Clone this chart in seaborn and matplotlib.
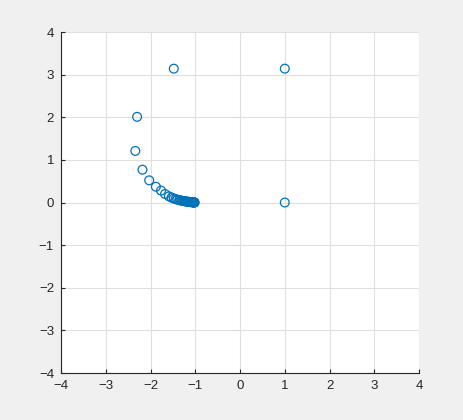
import pandas as pd
import matplotlib
matplotlib.use("Agg")
import matplotlib.pyplot as plt
import seaborn as sns

# points
x_vals = [1.0, 1.0, -1.48, -2.30, -2.34, -2.18, -2.03, -1.88, -1.765, -1.675, -1.59,
          -1.53, -1.48, -1.44, -1.40, -1.36, -1.33, -1.30, -1.27, -1.24, -1.22,
          -1.20, -1.18, -1.16, -1.14, -1.12, -1.11, -1.10, -1.09, -1.08, -1.07,
          -1.06, -1.05, -1.045, -1.04, -1.035, -1.03, -1.025, -1.02, -1.015]
y_vals = [3.14, 0.0, 3.14, 2.01, 1.21, 0.77, 0.52, 0.37, 0.28, 0.20, 0.146,
          0.115, 0.095, 0.08, 0.067, 0.057, 0.049, 0.042, 0.036, 0.031, 0.027,
          0.023, 0.020, 0.017, 0.015, 0.013, 0.011, 0.010, 0.009, 0.008, 0.007,
          0.006, 0.005, 0.004, 0.003, 0.003, 0.002, 0.002, 0.001, 0.001]
ticks = [-4, -3, -2, -1, 0, 1, 2, 3, 4]

df = pd.DataFrame({"x": x_vals, "y": y_vals})

sns.set_style("ticks")
plt.rcParams['font.family'] = ['Liberation Sans', 'DejaVu Sans']

fig = plt.figure(figsize=(4.64, 4.2), dpi=100, facecolor="#f0f0f0")
ax = fig.add_axes([0.1315, 0.1119, 0.7716, 0.8119])
ax.set_facecolor("white")

sns.scatterplot(data=df, x="x", y="y", ax=ax, marker="o", s=40,
                facecolors="none", edgecolor="#0072BD", linewidth=0.9, zorder=3)

ax.set_xlim(-4, 4)
ax.set_ylim(-4, 4)
ax.set_xticks(ticks)
ax.set_yticks(ticks)
ax.set_xlabel("")
ax.set_ylabel("")
ax.grid(True, color="#dfdfdf", linewidth=0.8)
ax.set_axisbelow(True)

for side in ["top", "right"]:
    ax.spines[side].set_visible(False)
for side in ["left", "bottom"]:
    ax.spines[side].set_color("#262626")
    ax.spines[side].set_linewidth(0.8)

ax.tick_params(direction="in", length=3, width=0.8, colors="#262626",
               labelsize=9.5, labelcolor="#262626", pad=5)

fig.savefig("out.png", dpi=100, facecolor=fig.get_facecolor())
